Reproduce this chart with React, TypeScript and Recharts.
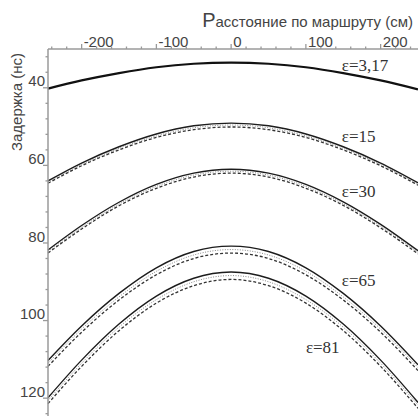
import { ComposedChart, Line, Scatter, XAxis, YAxis } from "recharts";

// distance along the route, cm
const distance = [-245, -200, -150, -100, -50, 0, 50, 100, 150, 200, 250];

// delay, ns (upper solid / middle dotted / lower dashed trace)
const eps3 = [40.2, 38.1, 36.2, 34.7, 33.8, 33.5, 33.8, 34.7, 36.2, 38.1, 40.4];

const eps15Top = [64.0, 59.4, 55.2, 51.9, 49.8, 49.1, 49.8, 51.9, 55.2, 59.4, 64.5];
const eps15Mid = [64.3, 59.8, 55.6, 52.4, 50.3, 49.6, 50.3, 52.4, 55.6, 59.8, 64.8];
const eps15Low = [64.6, 60.1, 56.0, 52.8, 50.8, 50.1, 50.8, 52.8, 56.0, 60.1, 65.1];

const eps30Top = [81.8, 75.5, 69.5, 64.9, 62.0, 61.0, 62.0, 64.9, 69.4, 75.2, 82.0];
const eps30Mid = [82.2, 76.0, 70.0, 65.4, 62.5, 61.5, 62.5, 65.4, 69.9, 75.7, 82.4];
const eps30Low = [82.6, 76.4, 70.4, 65.9, 63.0, 62.0, 63.0, 65.9, 70.3, 76.1, 82.8];

const eps65Top = [110.3, 101.4, 93.0, 86.4, 82.2, 80.8, 82.2, 86.4, 93.0, 101.4, 111.4];
const eps65Mid = [111.0, 102.2, 93.9, 87.3, 83.1, 81.7, 83.1, 87.3, 93.9, 102.2, 112.1];
const eps65Low = [111.8, 103.0, 94.7, 88.2, 84.0, 82.6, 84.0, 88.2, 94.7, 103.0, 112.9];

const eps81Top = [119.9, 110.2, 100.9, 93.7, 89.1, 87.5, 89.1, 93.7, 100.9, 110.2, 121.1];
const eps81Mid = [120.6, 111.0, 101.7, 94.6, 90.0, 88.4, 90.0, 94.6, 101.7, 111.0, 121.8];
const eps81Low = [121.4, 111.8, 102.6, 95.5, 91.0, 89.4, 91.0, 95.5, 102.6, 111.8, 122.6];

const curveLabels = ["ε=3,17", "ε=15", "ε=30", "ε=65", "ε=81"];
const labelX = [148, 148, 148, 148, 100];
const labelY = [35.6, 53.9, 68.1, 91.1, 108.4];

const xTicks = [-240, -220, -200, -180, -160, -140, -120, -100, -80, -60, -40, -20, 0, 20, 40, 60, 80, 100, 120, 140, 160, 180, 200, 220, 240];
const yTicks = [32, 36, 40, 44, 48, 52, 56, 60, 64, 68, 72, 76, 80, 84, 88, 92, 96, 100, 104, 108, 112, 116, 120, 124];

const rows = distance.map((x, i) => ({
  x,
  e3: eps3[i],
  e15a: eps15Top[i],
  e15b: eps15Mid[i],
  e15c: eps15Low[i],
  e30a: eps30Top[i],
  e30b: eps30Mid[i],
  e30c: eps30Low[i],
  e65a: eps65Top[i],
  e65b: eps65Mid[i],
  e65c: eps65Low[i],
  e81a: eps81Top[i],
  e81b: eps81Mid[i],
  e81c: eps81Low[i],
}));

const labelRows = curveLabels.map((text, i) => ({ x: labelX[i], y: labelY[i], text }));

const sans = "Liberation Sans, Arial, sans-serif";
const serif = "Liberation Serif, DejaVu Serif, Times New Roman, serif";
const axisGrey = "#9a9a9a";
const textGrey = "#444";

function TopTick(props: any) {
  const { x, y, payload } = props;
  const major = payload.value % 100 === 0;
  return (
    <g>
      <line x1={x} y1={y} x2={x} y2={y - (major ? 5 : 2.5)} stroke={axisGrey} strokeWidth={1.3} />
      {major && (
        <text x={x + 2} y={y - 2.5} fontSize={15} style={{ fontFamily: sans }} fill={textGrey} textAnchor="start">
          {payload.value}
        </text>
      )}
    </g>
  );
}

function LeftTick(props: any) {
  const { x, y, payload } = props;
  const major = payload.value % 20 === 0;
  return (
    <g>
      <line x1={x} y1={y} x2={x - (major ? 5 : 2.5)} y2={y} stroke={axisGrey} strokeWidth={1.3} />
      {major && (
        <text x={x - 3} y={y - 1.3} fontSize={15} style={{ fontFamily: sans }} fill={textGrey} textAnchor="end">
          {payload.value}
        </text>
      )}
    </g>
  );
}

function EpsLabel(props: any) {
  const { cx, cy, payload } = props;
  return (
    <text x={cx} y={cy} fontSize={17} style={{ fontFamily: serif }} fill="#333">
      {payload.text}
    </text>
  );
}

const solid = { stroke: "#1c1c1c", strokeWidth: 1.4 };
const dotted = { stroke: "#8a8a8a", strokeWidth: 1, strokeDasharray: "1 1.5" };
const dashed = { stroke: "#333", strokeWidth: 1.3, strokeDasharray: "3 2" };

export default function App() {
  return (
    <div>
      <style>{"body{margin:0;background:#fff}"}</style>
      <ComposedChart width={418} height={416} data={rows} margin={{ top: 0, right: 0, bottom: 0, left: 0 }}>
        <XAxis
          dataKey="x"
          type="number"
          orientation="top"
          domain={[-245, 250]}
          ticks={xTicks}
          interval={0}
          height={49}
          tickSize={0}
          tickMargin={0}
          tickLine={false}
          tick={(p: any) => <TopTick {...p} />}
          axisLine={{ stroke: axisGrey, strokeWidth: 1.5 }}
          label={() => (
            <text x={413} y={27} fontSize={15} style={{ fontFamily: sans }} fill={textGrey} textAnchor="end">
              <tspan fontSize={20}>Р</tspan>асстояние по маршруту (см)
            </text>
          )}
        />
        <YAxis
          type="number"
          reversed
          domain={[30, 124.6]}
          ticks={yTicks}
          interval={0}
          width={48}
          tickSize={0}
          tickMargin={0}
          tickLine={false}
          tick={(p: any) => <LeftTick {...p} />}
          axisLine={{ stroke: axisGrey, strokeWidth: 1.5 }}
          label={() => (
            <text
              x={22}
              y={102}
              fontSize={15}
              style={{ fontFamily: sans }}
              fill={textGrey}
              textAnchor="middle"
              transform="rotate(-90 22 102)"
            >
              Задержка (нс)
            </text>
          )}
        />

        <Line type="monotone" dataKey="e3" dot={false} isAnimationActive={false} stroke="#111" strokeWidth={2.2} />

        <Line type="monotone" dataKey="e15a" dot={false} isAnimationActive={false} {...solid} />
        <Line type="monotone" dataKey="e15b" dot={false} isAnimationActive={false} {...dotted} />
        <Line type="monotone" dataKey="e15c" dot={false} isAnimationActive={false} {...dashed} />

        <Line type="monotone" dataKey="e30a" dot={false} isAnimationActive={false} {...solid} />
        <Line type="monotone" dataKey="e30b" dot={false} isAnimationActive={false} {...dotted} />
        <Line type="monotone" dataKey="e30c" dot={false} isAnimationActive={false} {...dashed} />

        <Line type="monotone" dataKey="e65a" dot={false} isAnimationActive={false} {...solid} />
        <Line type="monotone" dataKey="e65b" dot={false} isAnimationActive={false} {...dotted} />
        <Line type="monotone" dataKey="e65c" dot={false} isAnimationActive={false} {...dashed} />

        <Line type="monotone" dataKey="e81a" dot={false} isAnimationActive={false} {...solid} />
        <Line type="monotone" dataKey="e81b" dot={false} isAnimationActive={false} {...dotted} />
        <Line type="monotone" dataKey="e81c" dot={false} isAnimationActive={false} {...dashed} />

        <Scatter data={labelRows} dataKey="y" isAnimationActive={false} shape={(p: any) => <EpsLabel {...p} />} />
      </ComposedChart>
    </div>
  );
}
